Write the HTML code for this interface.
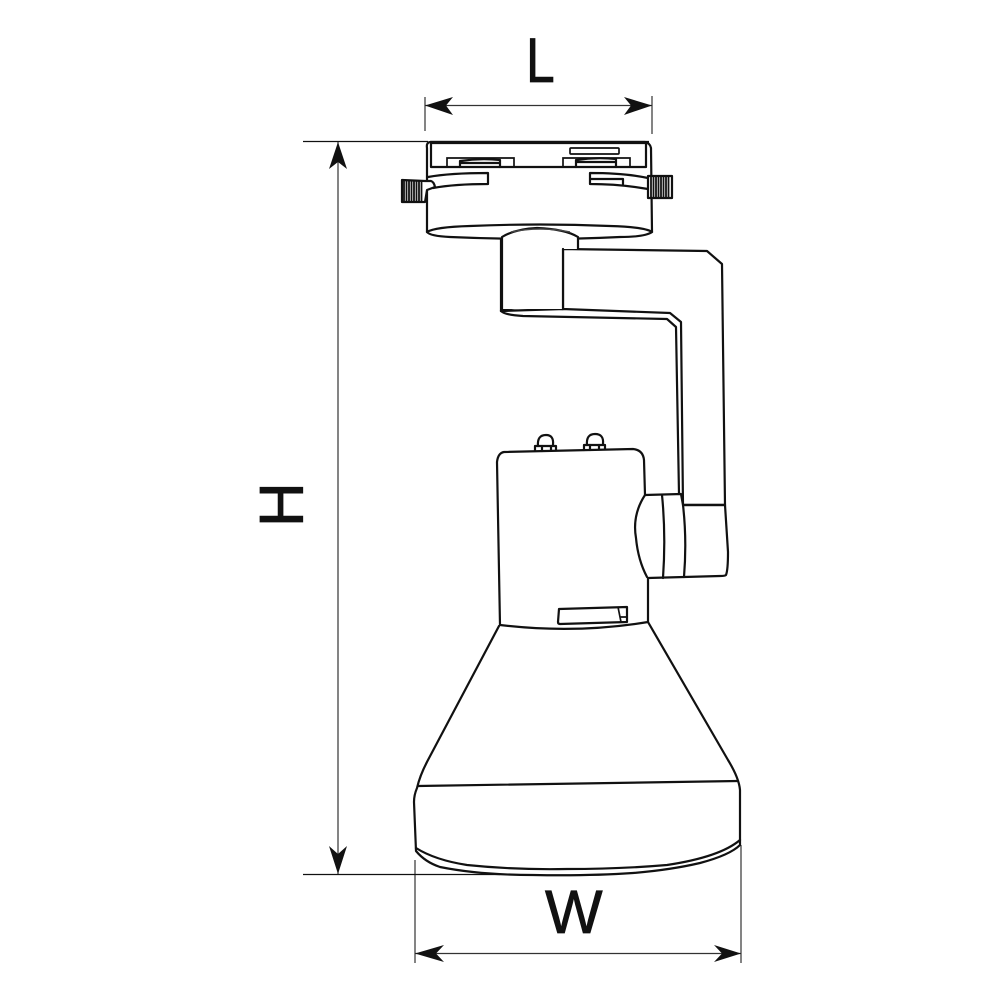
<!DOCTYPE html>
<html><head><meta charset="utf-8"><style>
html,body{margin:0;padding:0;background:#fff}
svg{display:block}
text{font-family:"Liberation Sans",sans-serif;fill:#111;stroke:#111;stroke-width:.8}
.m{fill:#fff;stroke:#111;stroke-width:2.2;stroke-linejoin:round;stroke-linecap:round}
.n{fill:none;stroke:#111;stroke-width:2.2;stroke-linejoin:round;stroke-linecap:round}
.t{fill:none;stroke:#111;stroke-width:1.7}
.d{fill:none;stroke:#333;stroke-width:1.2}
</style></head><body>
<svg width="1000" height="1000" viewBox="0 0 1000 1000" xmlns="http://www.w3.org/2000/svg">
<rect width="1000" height="1000" fill="#fff"/>
<!-- dims -->
<path class="d" d="M425 97V131M652 96V134M425 105.500H652M415 860V963M741 845V963M415 953.500H741M338 142V874"/>
<path d="M303 141.500H428M303 874.500H500" fill="none" stroke="#111" stroke-width="1.200"/>
<path fill="#111" d="M425 105.500L453 97L446 105.500L453 115ZM652 105.500L624 97L631 105.500L624 115ZM415 953.500L444 945L436 953.500L444 962ZM741 953.500L714 945L722 953.500L714 962ZM338 142L347 169L338 162L329 169ZM338 874L347 846L338 854L329 846Z"/>
<text transform="translate(526 82) scale(.82 1)" font-size="63">L</text>
<text x="545" y="933" font-size="61">W</text>
<text transform="translate(303 527) rotate(-90)" font-size="62">H</text>

<!-- lamp shade -->
<path class="m" d="M499 626L428 760Q420 775 417 788Q414 795 414 802L416 851Q425 862 440 867Q480 875 533 875Q590 876 633 873Q670 870 700 863Q730 855 740 845L740 790Q739 778 728 760L648 622"/>
<path class="n" d="M418 786L738 781"/>
<path class="n" d="M416 848Q435 860 467 865Q515 870 567 869Q620 869 667 865Q720 857 740 840"/>
<!-- arm -->
<path class="m" d="M501 237L501 311L563 309L670 313L681 322L683 505L725 505L723 345L722 264L707 251L563 249L563 309"/>
<path class="n" d="M501 311Q505 315 523 316L667 319L676 327L679 494"/>
<path class="n" d="M501 311Q510 307 530 308L563 309"/>
<!-- body -->
<path class="m" d="M500 625L497 462Q498 453 504 452L633 449Q643 450 644 460L645 495L681 494L683 505L725 505L728 552Q728 570 726 575Q725 576 720 576L648 578L648 622Q575 634 500 625Z"/>
<path class="n" d="M645 495Q632 515 636 538Q638 560 647 577"/>
<path class="n" d="M662 495Q666 535 663 578M683 505Q687 540 684 577M683 505L725 505"/>
<!-- label -->
<path class="n" d="M559 609L627 607L627 622L560 624Q558 624 558 622Z"/>
<path class="t" d="M618 607L621 622M620 617H627"/>
<!-- screws -->
<path class="n" d="M535 451V446H556V450M584 450V445H605V449"/>
<path class="n" d="M538 446Q537 435 546 435Q554 435 553 445M587 445Q586 434 595 434Q604 434 603 444M542 446V451M551 446V450M590 445V450M599 445V449"/>
<!-- adapter -->
<path class="m" d="M427 232V148Q426 142 431 142L645 142Q650 143 651 148L652 232Q645 237 620 237Q540 241 450 237Q430 236 427 232Z"/>
<path d="M430 142.500H649" stroke="#111" stroke-width="3.200" fill="none"/>
<path class="n" d="M431 143V167H646V143"/>
<path class="n" d="M427 232Q435 227 470 226Q540 223 610 226Q645 227 652 232"/>
<path class="t" d="M447 167V158H514V167M563 167V158H630V167"/>
<path class="n" d="M460 167V161Q480 158 500 160V167M576 167V160Q596 157 616 159V167M460 163H499M576 162H616"/>
<rect x="570" y="148" width="49" height="6" class="t" rx="1"/>
<path class="n" d="M428 177Q450 173 488 173V184Q455 184 433 188M590 173V184Q620 184 648 189M590 173Q625 173 648 178M591 179H623V184"/>
<path class="m" d="M425 181H431Q434 182 435 187L427 190L425 202H402V180Z"/>
<path class="m" d="M648 176H672V198H648Z"/>
<path fill="none" stroke="#111" stroke-width="1.800" d="M404 181V201M406.500 181V201M409 181V201M411.500 181V201M414 181V201M416.500 181V201M419 181V201M421.500 181V201M651 177V197M653.500 177V197M656 177V197M658.500 177V197M661 177V197M663.500 177V197M666 177V197M668.500 177V197"/>
<path d="M502 237Q515 229 537 228Q565 229 578 237V249H563V309H501Z" fill="#fff"/>
<path class="n" d="M502 310V237Q515 229 537 228Q565 229 578 237V249M563 249V309"/>
<path d="M511 232Q540 226 570 232" stroke="#444" stroke-width="1.500" fill="none"/>
</svg>
</body></html>
